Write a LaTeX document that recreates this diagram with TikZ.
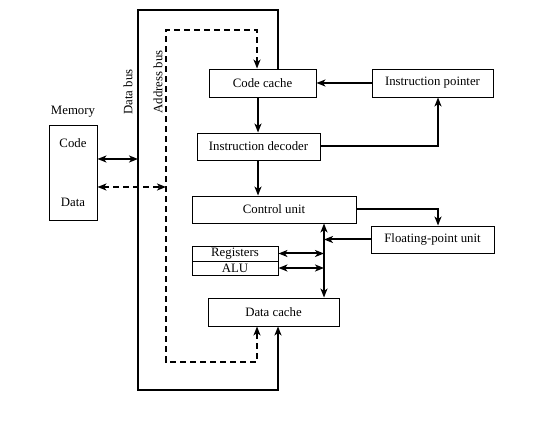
\documentclass[tikz,border=0pt]{standalone}
\usepackage{fontspec}
\setmainfont{Liberation Serif}
\usetikzlibrary{arrows.meta}
\begin{document}
\begin{tikzpicture}[x=1pt,y=-1pt,
  tip/.tip={Stealth[length=9pt,width=7pt,inset=2.5pt]},
  box/.style={draw, line width=0.9pt, inner sep=0pt, font=\fontsize{12.8}{14}\selectfont},
  lbl/.style={inner sep=0pt, font=\fontsize{12.8}{14}\selectfont},
  bus/.style={line width=2.2pt},
  arr/.style={line width=2pt, -tip},
  darr/.style={line width=2pt, tip-tip},
  dsh/.style={dash pattern=on 6pt off 4pt}]
\useasboundingbox (0,0) rectangle (543,427);
% boxes
\node[box, minimum width=107pt, minimum height=28pt] (cc) at (262.5,83) {Code cache};
\node[box, minimum width=121pt, minimum height=28pt] (ip) at (432.5,83) {Instruction pointer};
\node[box, minimum width=123pt, minimum height=27pt] (id) at (258.5,146.5) {Instruction decoder};
\node[box, minimum width=164pt, minimum height=27pt] (cu) at (274,209.5) {Control unit};
\node[box, minimum width=123pt, minimum height=27pt] (fpu) at (432.5,239.5) {Floating-point unit};
\node[box, minimum width=86pt, minimum height=15pt] (reg) at (235,253.5) {Registers};
\node[box, minimum width=86pt, minimum height=14pt] (alu) at (235,268) {ALU};
\node[box, minimum width=131pt, minimum height=28pt] (dc) at (273.5,312) {Data cache};
\node[box, minimum width=48pt, minimum height=95pt] (mem) at (73,172.5) {};
\node[lbl] (memlbl) at (73,112) {Memory};
\node[lbl] (memcode) at (73,143) {Code};
\node[lbl] (memdata) at (73,202) {Data};
\node[lbl, rotate=90] (dbus) at (128,92) {Data bus};
\node[lbl, rotate=90] (abus) at (158,82) {Address bus};
% bus corners
\coordinate (d1) at (278,10);
\coordinate (d2) at (138,10);
\coordinate (d3) at (138,390);
\coordinate (d4) at (278,390);
\coordinate (a1) at (257,30);
\coordinate (a2) at (166,30);
\coordinate (a3) at (166,362);
\coordinate (a4) at (257,362);
% data bus
\draw[bus, -tip] (cc.north -| d1) -- (d1) -- (d2) -- (d3) -- (d4) -- (dc.south -| d4);
% address bus
\draw[line width=2pt, dsh, tip-tip] (cc.north -| a1) -- (a1) -- (a2) -- (a3) -- (a4) -- (dc.south -| a4);
% memory links
\coordinate (m1) at (138,159);
\coordinate (m2) at (166,187);
\draw[darr] (mem.east |- m1) -- (m1);
\draw[darr, dsh] (mem.east |- m2) -- (m2);
% instruction flow
\coordinate (x1) at (258,0);
\coordinate (x2) at (438,0);
\draw[arr] (ip.west) -- (cc.east);
\draw[arr] (cc.south -| x1) -- (id.north -| x1);
\draw[arr] (id.south -| x1) -- (cu.north -| x1);
\draw[arr] (id.east) -- (id.east -| x2) -- (ip.south -| x2);
\draw[arr] (cu.east) -- (cu.east -| x2) -- (fpu.north -| x2);
% internal bus
\coordinate (v) at (324,0);
\draw[darr] (cu.south -| v) -- (dc.north -| v);
\draw[arr] (fpu.west) -- (fpu.west -| v);
\draw[darr] (reg.east) -- (reg.east -| v);
\draw[darr] (alu.east) -- (alu.east -| v);
\end{tikzpicture}
\end{document}
